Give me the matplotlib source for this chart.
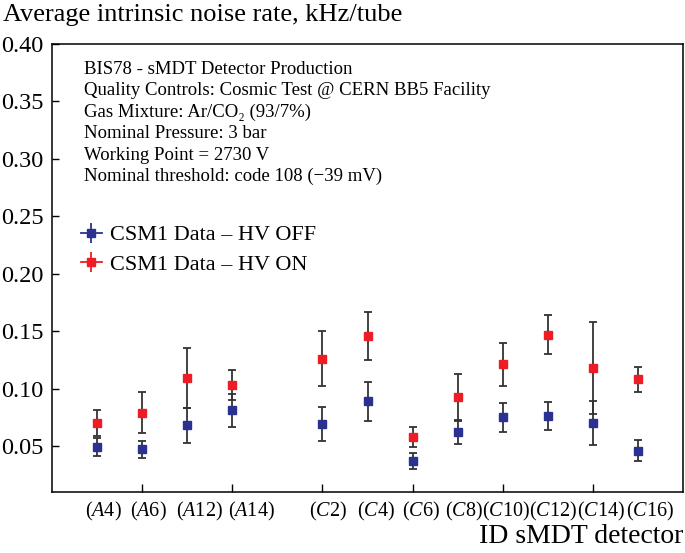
import numpy as np
import matplotlib
matplotlib.use("Agg")
import matplotlib.pyplot as plt
import matplotlib.transforms as mtransforms
from matplotlib.lines import Line2D

plt.rcParams['font.family'] = ['Liberation Serif', 'DejaVu Serif']
plt.rcParams['mathtext.fontset'] = 'custom'
plt.rcParams['mathtext.rm'] = 'Liberation Serif'
plt.rcParams['mathtext.it'] = 'Liberation Serif:italic'

# -------- Daten --------
detectors = ["A4", "A6", "A12", "A14", "C2", "C4", "C6", "C8", "C10", "C12", "C14", "C16"]
x_pos = [1, 2, 3, 4, 6, 7, 8, 9, 10, 11, 12, 13]

hv_off = [0.049, 0.047, 0.068, 0.081, 0.069, 0.089, 0.037, 0.062, 0.075, 0.076, 0.070, 0.046]
hv_off_err = [0.0076, 0.007, 0.0154, 0.0143, 0.0147, 0.017, 0.0066, 0.010, 0.0128, 0.012, 0.0193, 0.009]

hv_on = [0.070, 0.079, 0.109, 0.103, 0.126, 0.146, 0.058, 0.093, 0.121, 0.147, 0.118, 0.108]
hv_on_err = [0.011, 0.018, 0.0263, 0.013, 0.024, 0.021, 0.009, 0.020, 0.019, 0.0167, 0.040, 0.011]

info_lines = [
    "BIS78 - sMDT Detector Production",
    "Quality Controls: Cosmic Test @ CERN BB5 Facility",
    "Gas Mixture: Ar/CO\u2082 (93/7%)",
    "Nominal Pressure: 3 bar",
    "Working Point = 2730 V",
    "Nominal threshold: code 108 (\u221239 mV)",
]

blue = "#2b3190"
red = "#ee1c25"

# -------- Plot --------
fig = plt.figure(figsize=(6.85, 5.53), dpi=100)
ax = fig.add_axes([52/685, 1 - 492/553, (683 - 52)/685, (492 - 44)/553])

ax.errorbar(x_pos, hv_off, yerr=hv_off_err, fmt="s", color=blue, ms=6,
            ecolor="#333333", elinewidth=1.3, capsize=2.7, capthick=1.3, zorder=3)
ax.errorbar(x_pos, hv_on, yerr=hv_on_err, fmt="s", color=red, ms=6,
            ecolor="#333333", elinewidth=1.3, capsize=2.7, capthick=1.3, zorder=3)

ax.set_xlim(0, 14)
ax.set_ylim(0.01, 0.40)
ax.set_xticks([2, 4, 6, 8, 10, 12])
ax.set_xticklabels([])
yt = [0.05, 0.10, 0.15, 0.20, 0.25, 0.30, 0.35, 0.40]
ax.set_yticks(yt)
ax.set_yticklabels(["%.2f" % v for v in yt], fontsize=17.5)
ax.tick_params(direction="in", length=6, width=1, pad=6)
ax.tick_params(axis="y", length=5)
for s in ax.spines.values():
    s.set_linewidth(1.1)

# Detektor-Beschriftungen unter der Achse
trans = mtransforms.blended_transform_factory(ax.transData, fig.transFigure)
lbl_shift = [0.13, 0.13, 0.28, 0.42, 0.12, 0.19, 0.19, 0.15, 0.07, 0.12, 0.18, 0.27]
for xp, name, dx in zip(x_pos, detectors, lbl_shift):
    ax.text(xp + dx, 1 - 516/553, r"($\mathit{%s}$%s)" % (name[0], name[1:]),
            transform=trans, ha="center", va="baseline", fontsize=14.5)

fig.text(683/685, 1 - 543/553, "ID sMDT detector",
         ha="right", va="baseline", fontsize=20)
fig.text(3/685, 1 - 21/553, "Average intrinsic noise rate, kHz/tube",
         ha="left", va="baseline", fontsize=19)

# Infotext
for i, line in enumerate(info_lines):
    ax.text(0.051, 0.944 - i * 0.048, line, transform=ax.transAxes,
            ha="left", va="center", fontsize=13.5)

# Legende
h_off = (Line2D([], [], color=blue, marker="s", ms=6, lw=1.3),
         Line2D([], [], color=blue, marker="|", ms=14, mew=1.3, ls="none"))
h_on = (Line2D([], [], color=red, marker="s", ms=6, lw=1.3),
        Line2D([], [], color=red, marker="|", ms=14, mew=1.3, ls="none"))
ax.legend([h_off, h_on], ["CSM1 Data \u2013 HV OFF", "CSM1 Data \u2013 HV ON"],
          loc="upper left", bbox_to_anchor=(0.014, 0.641), frameon=False,
          fontsize=16, handlelength=0.94, handletextpad=0.35, labelspacing=0.4)

fig.savefig("out.png", dpi=100)
